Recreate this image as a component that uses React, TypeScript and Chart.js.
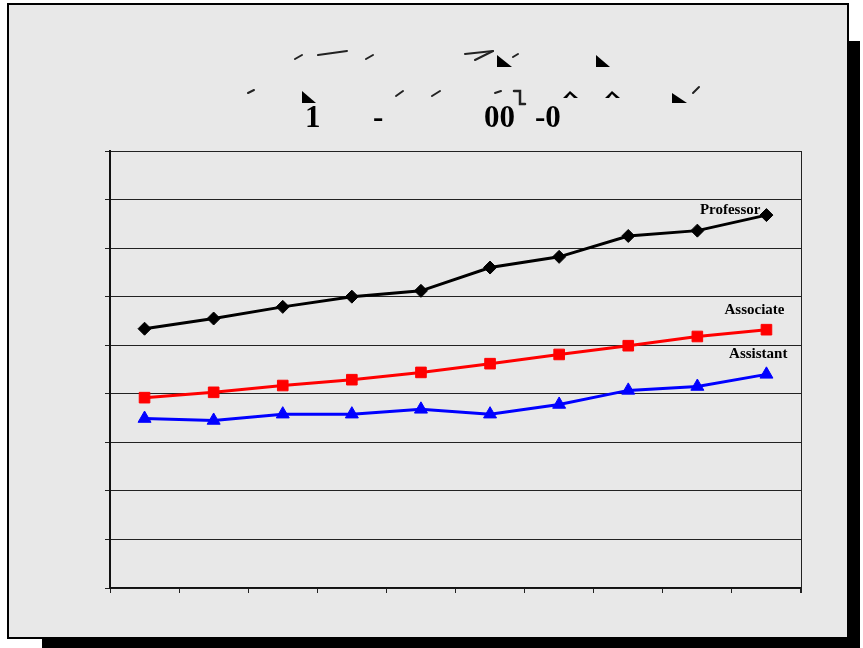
import React, { useEffect, useRef } from 'react';
import { Chart, registerables } from 'chart.js';

Chart.register(...registerables);

const categories = ['1991-92', '1992-93', '1993-94', '1994-95', '1995-96', '1996-97', '1997-98', '1998-99', '1999-00', '2000-01'];
const professor = [53.4, 55.5, 57.9, 60.0, 61.2, 66.0, 68.2, 72.5, 73.6, 76.8];
const associate = [39.2, 40.3, 41.7, 42.9, 44.4, 46.2, 48.1, 49.9, 51.8, 53.2];
const assistant = [34.9, 34.5, 35.8, 35.8, 36.8, 35.8, 37.8, 40.7, 41.5, 44.0];
const seriesNames = ['Professor', 'Associate', 'Assistant'];
const yMin = 0;
const yMax = 90;
const yStep = 10;
const titleTexts = [
  { t: '1', x: 305 },
  { t: '-', x: 373 },
  { t: '00', x: 484 },
  { t: '-0', x: 535 },
];

const labelOffsets = [
  { dx: -6, dy: -1 },
  { dx: 18, dy: -16 },
  { dx: 21, dy: -16 },
];

const strokes: number[][] = [
  [295, 59, 302, 55],
  [318, 55, 347, 51],
  [366, 59, 373, 55],
  [465, 54, 493, 51],
  [493, 51, 475, 60],
  [513, 57, 518, 54],
  [248, 93, 254, 90],
  [396, 96, 403, 91],
  [432, 96, 440, 91],
  [495, 93, 501, 91],
  [693, 93, 699, 87],
];
const triangles: number[][] = [
  [497, 55, 512, 67],
  [596, 55, 610, 67],
  [302, 91, 316, 103],
  [672, 93, 687, 103],
];

const decorPlugin = {
  id: 'decor',
  afterDraw(chart: any) {
    const ctx = chart.ctx;
    const area = chart.chartArea;
    ctx.save();
    ctx.strokeStyle = '#222';
    ctx.lineWidth = 1;
    ctx.beginPath();
    ctx.moveTo(Math.round(area.right) + 0.5, area.top);
    ctx.lineTo(Math.round(area.right) + 0.5, area.bottom + 5);
    ctx.stroke();

    ctx.fillStyle = '#000';
    ctx.font = 'bold 31px "Liberation Serif"';
    ctx.textBaseline = 'alphabetic';
    ctx.textAlign = 'left';
    titleTexts.forEach((p) => ctx.fillText(p.t, p.x, 127));
    ctx.lineWidth = 2;
    ctx.lineCap = 'round';
    strokes.forEach((s) => {
      ctx.beginPath();
      ctx.moveTo(s[0], s[1]);
      ctx.lineTo(s[2], s[3]);
      ctx.stroke();
    });
    triangles.forEach((tr) => {
      ctx.beginPath();
      ctx.moveTo(tr[0], tr[1]);
      ctx.lineTo(tr[2], tr[3]);
      ctx.lineTo(tr[0], tr[3]);
      ctx.closePath();
      ctx.fill();
    });
    ctx.lineWidth = 2.5;
    ctx.beginPath();
    ctx.moveTo(514, 91);
    ctx.lineTo(520, 91);
    ctx.lineTo(520, 104);
    ctx.lineTo(525, 104);
    ctx.stroke();
    [563, 605].forEach((cx) => {
      ctx.beginPath();
      ctx.moveTo(cx, 98);
      ctx.lineTo(cx + 7, 91);
      ctx.lineTo(cx + 15, 98);
      ctx.lineTo(cx + 11, 98);
      ctx.lineTo(cx + 7, 94);
      ctx.lineTo(cx + 4, 98);
      ctx.closePath();
      ctx.fill();
    });

    ctx.font = 'bold 15px "Liberation Serif"';
    ctx.textAlign = 'right';
    chart.data.datasets.forEach((ds: any, i: number) => {
      const meta = chart.getDatasetMeta(i);
      const last = meta.data[meta.data.length - 1];
      if (!last) return;
      ctx.fillStyle = '#000';
      ctx.fillText(seriesNames[i], last.x + labelOffsets[i].dx, last.y + labelOffsets[i].dy);
    });
    ctx.restore();
  },
};

export default function App() {
  const ref = useRef<HTMLCanvasElement | null>(null);
  useEffect(() => {
    if (!ref.current) return;
    const chart = new Chart(ref.current, {
      type: 'line',
      data: {
        labels: categories,
        datasets: [
          {
            label: seriesNames[0],
            data: professor,
            borderColor: '#000000',
            backgroundColor: '#000000',
            borderWidth: 3,
            pointStyle: 'rectRot',
            pointRadius: 6.5,
            pointBorderWidth: 1,
            pointBorderColor: '#000000',
            tension: 0,
          },
          {
            label: seriesNames[1],
            data: associate,
            borderColor: '#ff0000',
            backgroundColor: '#ff0000',
            borderWidth: 3,
            pointStyle: 'rect',
            pointRadius: 7.5,
            pointBorderWidth: 1,
            pointBorderColor: '#ff0000',
            tension: 0,
          },
          {
            label: seriesNames[2],
            data: assistant,
            borderColor: '#0000ff',
            backgroundColor: '#0000ff',
            borderWidth: 3,
            pointStyle: 'triangle',
            pointRadius: 7.5,
            pointBorderWidth: 1,
            pointBorderColor: '#0000ff',
            tension: 0,
          },
        ],
      },
      options: {
        responsive: false,
        animation: false,
        devicePixelRatio: 1,
        layout: { padding: { left: 105, top: 151, right: 62, bottom: 55 } },
        plugins: { legend: { display: false }, tooltip: { enabled: false }, title: { display: false } },
        scales: {
          x: {
            type: 'category',
            offset: true,
            grid: { offset: true, drawOnChartArea: false, color: '#222', tickLength: 5, lineWidth: 1 },
            border: { display: true, color: '#111', width: 1.5 },
            ticks: { display: false },
          },
          y: {
            min: yMin,
            max: yMax,
            ticks: { display: false, stepSize: yStep },
            grid: { color: '#222', tickLength: 5, lineWidth: 1 },
            border: { display: true, color: '#111', width: 2 },
          },
        },
      },
      plugins: [decorPlugin],
    });
    return () => chart.destroy();
  }, []);

  return (
    <div style={{ position: 'absolute', left: 0, top: 0, width: 863, height: 648, background: '#ffffff', overflow: 'hidden' }}>
      <div style={{ position: 'absolute', left: 42, top: 41, width: 818, height: 607, background: '#000' }} />
      <div
        style={{
          position: 'absolute',
          left: 7,
          top: 3,
          width: 842,
          height: 636,
          boxSizing: 'border-box',
          border: '2px solid #000',
          background: '#e8e8e8',
        }}
      />
      <canvas ref={ref} width={863} height={648} style={{ position: 'absolute', left: 0, top: 0, width: 863, height: 648 }} />
    </div>
  );
}
